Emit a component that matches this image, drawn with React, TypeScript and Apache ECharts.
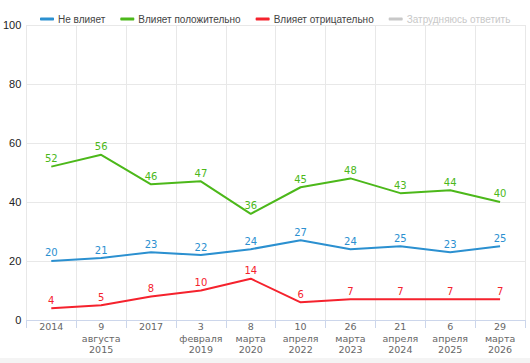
import React, { useEffect, useRef } from "react";
import * as echarts from "echarts";

const categories = [
  "2014",
  "9\nавгуста\n2015",
  "2017",
  "3\nфевраля\n2019",
  "8\nмарта\n2020",
  "10\nапреля\n2022",
  "26\nмарта\n2023",
  "21\nапреля\n2024",
  "6\nапреля\n2025",
  "29\nмарта\n2026",
];
const noEffect = [20, 21, 23, 22, 24, 27, 24, 25, 23, 25];
const positive = [52, 56, 46, 47, 36, 45, 48, 43, 44, 40];
const negative = [4, 5, 8, 10, 14, 6, 7, 7, 7, 7];
const hard: number[] = [];

const seriesNames = ["Не влияет", "Влияет положительно", "Влияет отрицательно", "Затрудняюсь ответить"];
const colors = ["#2b90d0", "#4cb81a", "#f5222d", "#bdbdbd"];

export default function App() {
  const ref = useRef<HTMLDivElement>(null);
  useEffect(() => {
    document.body.style.margin = "0";
    const chart = echarts.init(ref.current!, null, { renderer: "svg" });
    const mk = (name: string, data: number[], color: string) => ({
      name,
      type: "line",
      data,
      color,
      showSymbol: true,
      symbol: "circle",
      symbolSize: 0.1,
      itemStyle: { color },
      lineStyle: { width: 2, color },
      label: {
        show: true,
        position: "top",
        distance: 3,
        color,
        fontFamily: "DejaVu Sans",
        fontSize: 10,
      },
    });
    chart.setOption({
      animation: false,
      color: colors,
      graphic: [
        {
          type: "rect",
          left: 0,
          bottom: 0,
          shape: { width: 530, height: 5 },
          style: { fill: "#f4f4f4" },
          silent: true,
        },
      ],
      legend: {
        top: 9,
        left: 35,
        width: 510,
        itemWidth: 14,
        itemHeight: 3,
        itemGap: 15,
        icon: "roundRect",
        itemStyle: { opacity: 1 },
        textStyle: { color: "#444", fontSize: 10, fontFamily: "Liberation Sans", padding: [0, 0, 0, -1] },
        inactiveColor: "#c8c8c8",
        data: seriesNames,
        selected: { "Затрудняюсь ответить": false },
      },
      grid: { left: 25, right: 5, top: 25, bottom: 43, containLabel: false },
      xAxis: {
        type: "category",
        data: categories,
        boundaryGap: true,
        axisLine: { lineStyle: { color: "#ccd6eb", width: 1 } },
        axisTick: { show: true, alignWithLabel: false, length: 8, lineStyle: { color: "#ccd6eb" } },
        splitLine: { show: true, lineStyle: { color: "#e8e8e8" } },
        axisLabel: {
          color: "#666",
          fontFamily: "DejaVu Sans",
          fontSize: 9.5,
          lineHeight: 11.5,
          margin: 1,
          interval: 0,
        },
      },
      yAxis: {
        type: "value",
        min: 0,
        max: 100,
        interval: 20,
        axisLine: { show: false },
        axisTick: { show: false },
        splitLine: { lineStyle: { color: "#e8e8e8" } },
        axisLabel: {
          color: "#222",
          fontFamily: "Liberation Sans",
          fontSize: 11,
          margin: 5,
        },
      },
      series: [
        mk(seriesNames[0], noEffect, colors[0]),
        mk(seriesNames[1], positive, colors[1]),
        mk(seriesNames[2], negative, colors[2]),
        mk(seriesNames[3], hard, colors[3]),
      ],
    });
    return () => chart.dispose();
  }, []);
  return (
    <div
      ref={ref}
      style={{ position: "absolute", left: 0, top: 0, width: 530, height: 363, background: "#fff" }}
    />
  );
}
